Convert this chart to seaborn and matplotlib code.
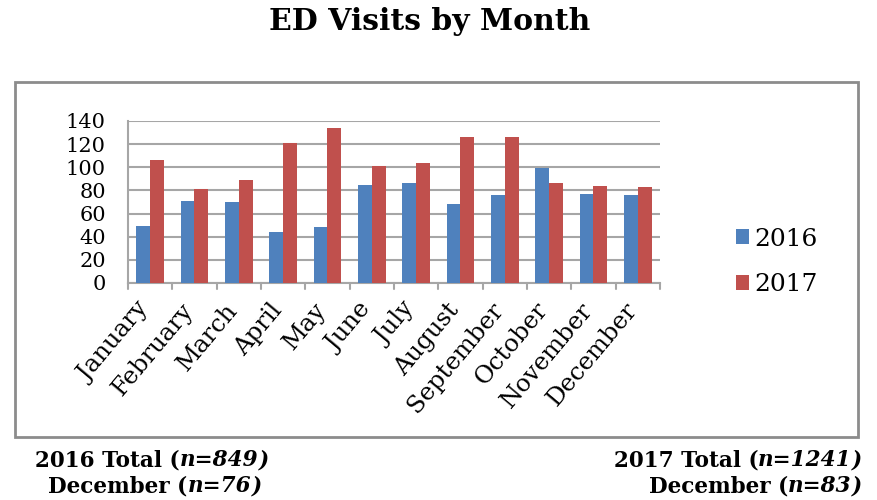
import pandas as pd
import matplotlib.pyplot as plt
import matplotlib.transforms as mtransforms
import seaborn as sns
from matplotlib.patches import Rectangle

# Monthly ED visits
months = ['January', 'February', 'March', 'April', 'May', 'June', 'July',
          'August', 'September', 'October', 'November', 'December']
visits_2016 = [49, 71, 70, 44, 48, 85, 86, 68, 76, 99, 77, 76]
visits_2017 = [106, 81, 89, 121, 134, 101, 104, 126, 126, 86, 84, 83]
years = ['2016', '2017']
palette = ['#4F81BD', '#C0504D']

df = pd.DataFrame({'Month': months * 2,
                   'Visits': visits_2016 + visits_2017,
                   'Year': [years[0]] * 12 + [years[1]] * 12})

sns.set_style('white')
plt.rcParams['font.family'] = ['DejaVu Serif']
plt.rcParams['text.color'] = 'black'
plt.rcParams['xtick.color'] = 'black'
plt.rcParams['ytick.color'] = 'black'

fig = plt.figure(figsize=(8.78, 5.0), dpi=100)
ax = fig.add_axes([128 / 878, 1 - 283 / 500, (660 - 128) / 878, (283 - 121) / 500])

sns.barplot(data=df, x='Month', y='Visits', hue='Year', palette=palette,
            saturation=1, width=0.62, ax=ax, zorder=3, edgecolor='none')

ax.set_ylim(0, 140)
ax.set_yticks(range(0, 141, 20))
ax.set_xlim(-0.5, 11.5)
ax.yaxis.grid(True, color='#A6A6A6', lw=1.5, zorder=0)
ax.set_xlabel('')
ax.set_ylabel('')
for side in ['top', 'right']:
    ax.spines[side].set_visible(False)
for side in ['left', 'bottom']:
    ax.spines[side].set_color('#A6A6A6')
    ax.spines[side].set_linewidth(1.5)

ax.tick_params(axis='y', labelsize=15, length=0, pad=16)
ax.tick_params(axis='x', labelsize=17.5, length=0, pad=4)
ax.set_xticks(range(12))
ax.set_xticklabels(months, rotation=50, ha='right', rotation_mode='anchor')
# nudge month labels down-left like the 3D front edge
shift = mtransforms.ScaledTranslation(-14 / 100, -10 / 100, fig.dpi_scale_trans)
for lab in ax.get_xticklabels():
    lab.set_transform(lab.get_transform() + shift)
# tick marks between categories
for b in range(13):
    ax.plot([b - 0.5, b - 0.5], [0, -5], color='#A6A6A6', lw=1.5,
            clip_on=False, zorder=4)

handles, labels = ax.get_legend_handles_labels()
ax.legend(handles, labels, loc='center left', bbox_to_anchor=(1.10, 0.13),
          frameon=False, fontsize=18, handlelength=0.55, handleheight=0.55,
          labelspacing=0.9, handletextpad=0.2)

# outer chart frame
fig.patches.append(Rectangle((15 / 878, 1 - 437 / 500), (858 - 15) / 878,
                             (437 - 82) / 500, transform=fig.transFigure,
                             fill=False, edgecolor='#8C8C8C', lw=2))

fig.text(430 / 878, 1 - 22 / 500, 'ED Visits by Month', ha='center',
         va='center', fontsize=21.5, fontweight='bold')


def draw_line(parts, x, y, ha):
    # bold text pieces placed side by side, the n=... part in bold italic
    fig.canvas.draw()
    r = fig.canvas.get_renderer()
    ts = [fig.text(0, y, s, fontsize=15.5, fontweight='bold', style=st,
                   va='center') for s, st in parts]
    widths = [t.get_window_extent(r).width / fig.bbox.width for t in ts]
    total = sum(widths)
    start = x - total / 2 if ha == 'center' else x - total
    for t, w in zip(ts, widths):
        t.set_x(start)
        start += w


draw_line([('2016 Total (', 'normal'), ('n=849', 'italic'), (')', 'italic')],
          152 / 878, 1 - 460 / 500, 'center')
draw_line([('December (', 'normal'), ('n=76', 'italic'), (')', 'italic')],
          155 / 878, 1 - 486 / 500, 'center')
draw_line([('2017 Total (', 'normal'), ('n=1241', 'italic'), (')', 'italic')],
          862 / 878, 1 - 460 / 500, 'right')
draw_line([('December (', 'normal'), ('n=83', 'italic'), (')', 'italic')],
          862 / 878, 1 - 486 / 500, 'right')

fig.savefig('out.png', dpi=100)
